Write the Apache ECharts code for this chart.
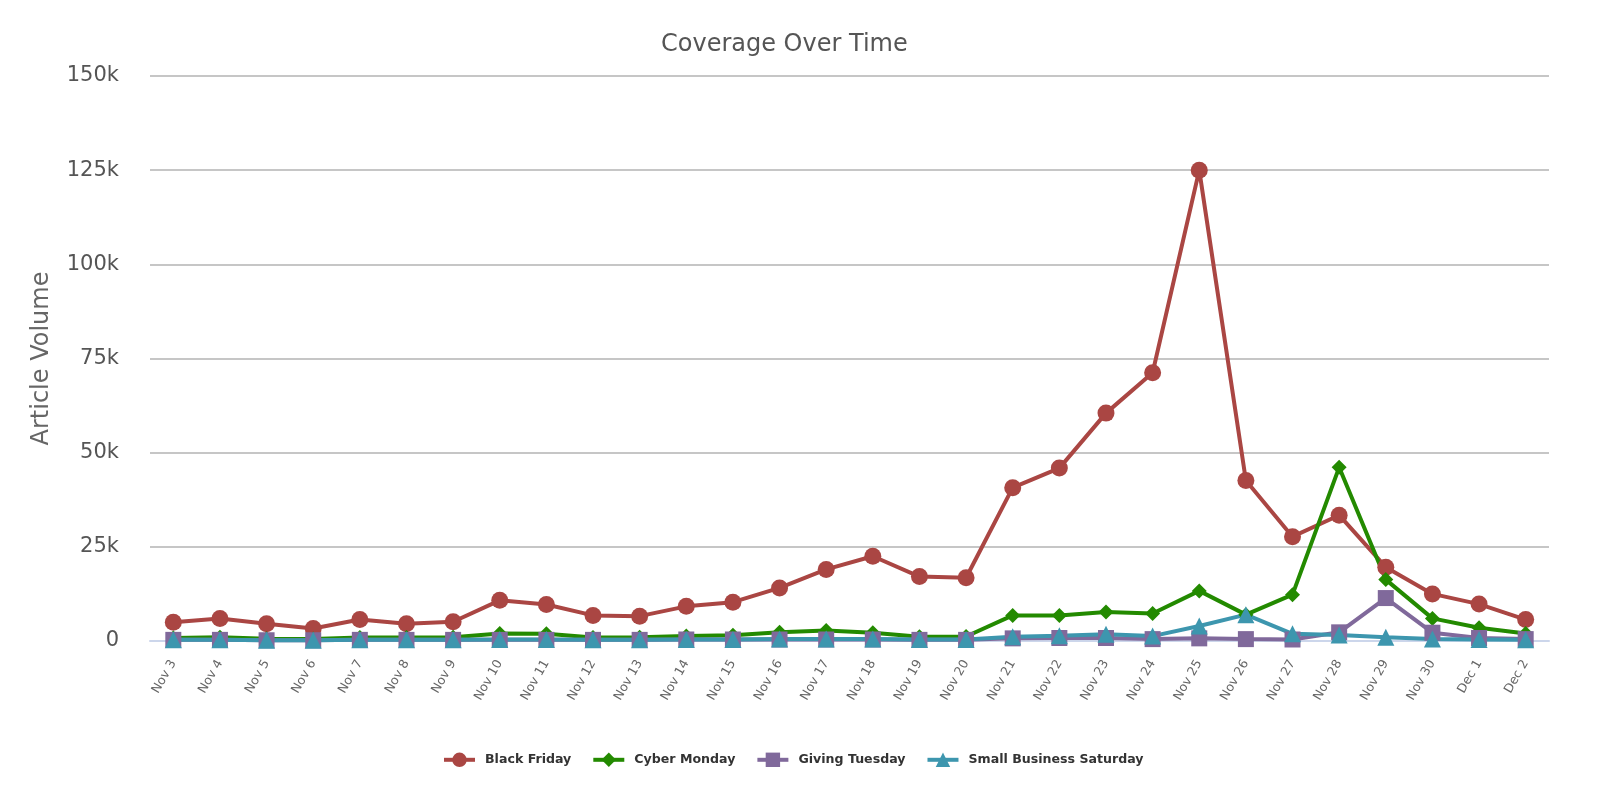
<!DOCTYPE html>
<html>
<head>
<meta charset="utf-8">
<script src="https://cdn.jsdelivr.net/npm/echarts@6/dist/echarts.min.js"></script>
<style>html,body{margin:0;padding:0;background:#fff}#c{width:1600px;height:800px}</style>
</head>
<body>
<div id="c"></div>
<script>
const categories = ["Nov 3","Nov 4","Nov 5","Nov 6","Nov 7","Nov 8","Nov 9","Nov 10","Nov 11","Nov 12","Nov 13","Nov 14","Nov 15","Nov 16","Nov 17","Nov 18","Nov 19","Nov 20","Nov 21","Nov 22","Nov 23","Nov 24","Nov 25","Nov 26","Nov 27","Nov 28","Nov 29","Nov 30","Dec 1","Dec 2"];
const blackFriday = [5000,6000,4600,3300,5700,4600,5100,10800,9700,6800,6600,9200,10300,14100,19000,22500,17100,16800,40700,45900,60500,71200,125000,42600,27700,33400,19600,12500,9800,5700];
const cyberMonday = [800,1000,600,500,900,900,1000,2000,1900,900,1000,1300,1500,2300,2800,2200,1100,1200,6800,6800,7700,7300,13300,7000,12300,46100,16300,6000,3500,2000];
const givingTuesday = [300,300,200,200,300,300,300,300,300,300,300,400,400,400,400,400,300,300,700,800,800,500,700,500,400,2300,11400,2200,800,500];
const smallBusinessSaturday = [300,300,200,200,300,300,300,400,400,300,300,400,400,500,500,500,400,400,1100,1400,1800,1300,4000,7000,1900,1600,1000,500,400,300];
const yTicks = [0,25000,50000,75000,100000,125000,150000];

const chart = echarts.init(document.getElementById('c'));
function mk(name, data, color, symbol, size){
  return {name, type:'line', data, symbol, symbolSize:size,
    lineStyle:{width:4,color}, itemStyle:{color}, emphasis:{disabled:true}};
}
chart.setOption({
  animation:false,
  title:{text:'Coverage Over Time', left:656, top:28, textStyle:{fontFamily:'DejaVu Sans', fontSize:24, fontWeight:'normal', color:'#555'}},
  legend:{bottom:28, left:437, itemGap:20, itemWidth:31, itemHeight:18,
    lineStyle:{width:4},
    textStyle:{fontFamily:'DejaVu Sans', fontSize:12.6, fontWeight:'bold', color:'#333', padding:[0,0,0,5]}},
  grid:{left:150, right:51, top:76, bottom:159},
  xAxis:{type:'category', data:categories, boundaryGap:true,
    axisLine:{lineStyle:{color:'#ccd6eb', width:2}}, axisTick:{show:false},
    axisLabel:{rotate:60, fontFamily:'DejaVu Sans', fontSize:12.5, color:'#666', margin:20, interval:0}},
  yAxis:{type:'value', min:0, max:150000, interval:25000, name:'Article Volume', nameLocation:'middle', nameGap:96,
    nameTextStyle:{fontFamily:'DejaVu Sans', fontSize:24, color:'#666'},
    axisLine:{show:false}, axisTick:{show:false},
    axisLabel:{fontFamily:'DejaVu Sans', fontSize:21, color:'#555', margin:31,
      formatter:v=> yTicks.includes(v) ? (v===0?'0':(v/1000)+'k') : ''},
    splitLine:{lineStyle:{color:'#b3b3b3', width:1.5}}},
  series:[
    mk('Black Friday', blackFriday, '#aa4643', 'circle', 17),
    mk('Cyber Monday', cyberMonday, '#238a00', 'diamond', 15),
    mk('Giving Tuesday', givingTuesday, '#80699b', 'rect', 16),
    mk('Small Business Saturday', smallBusinessSaturday, '#3d96ae', 'triangle', 17)
  ]
});
</script>
</body>
</html>
